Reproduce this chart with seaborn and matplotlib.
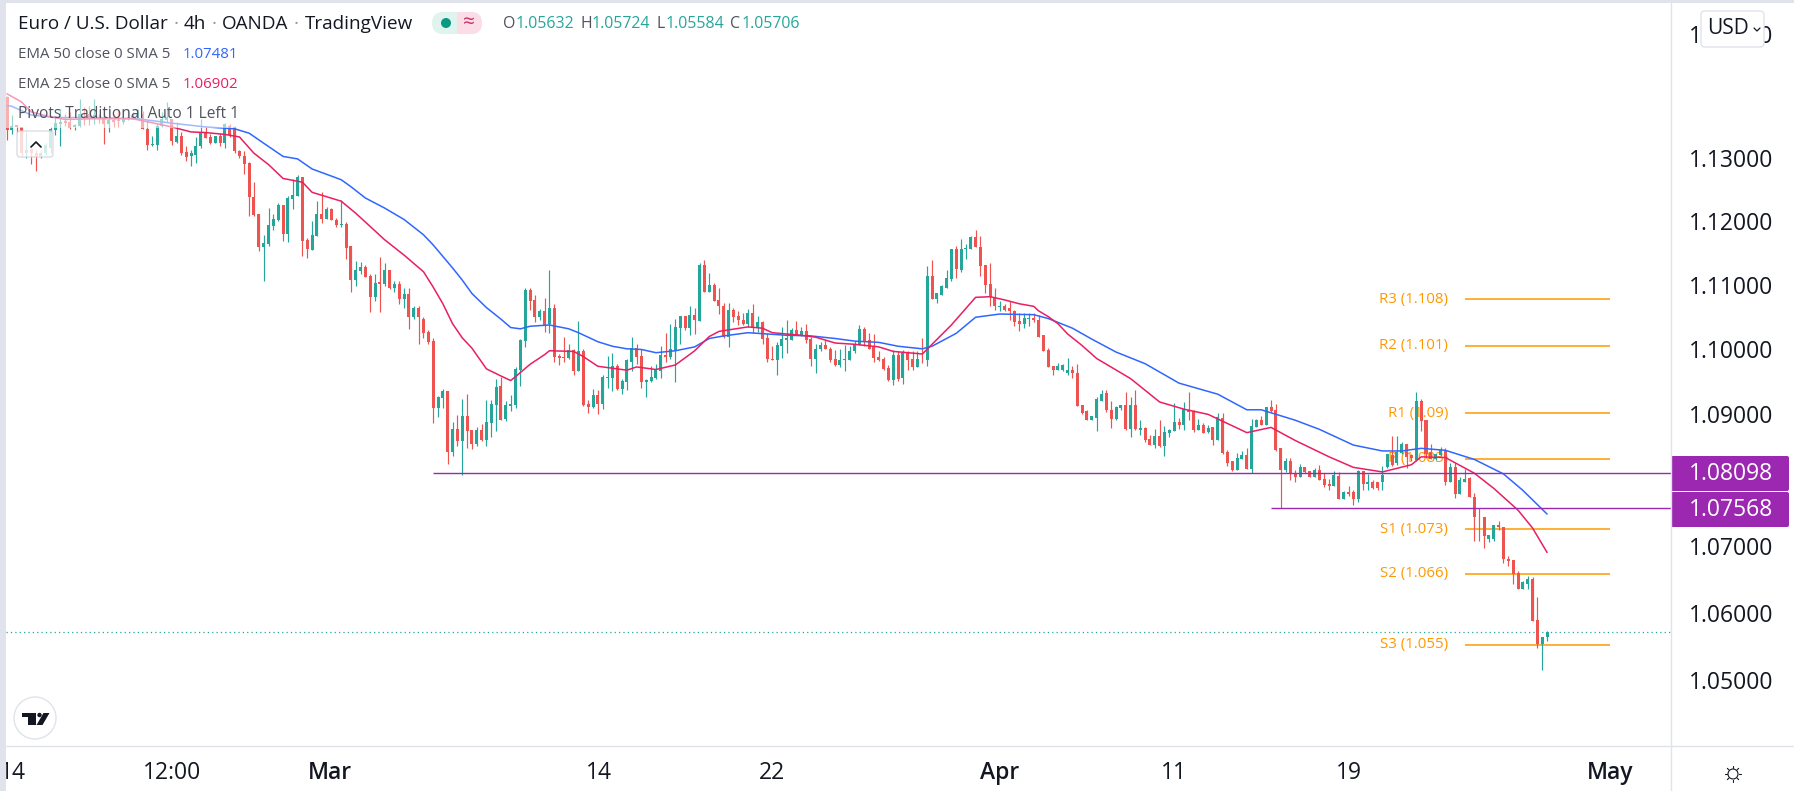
import numpy as np
import pandas as pd
import matplotlib
matplotlib.use('Agg')
import matplotlib.pyplot as plt
from matplotlib.patches import Rectangle, FancyBboxPatch, Circle, Polygon
from matplotlib.ticker import NullLocator
import seaborn as sns

# candle values (G = up bar, R = down bar)
directions = (
    "RGRRGRRGGG" "GGRRGGRRGR" "RGRRGGGGRR" "GGGGRGRRGG" "GRRGRGRRRR"
    "RRRGGGGRGG" "GRRGGRGRRG" "RRGGRRGRGR" "GRGRGRRRRG" "GRGRGRRGRG"
    "GGRGGGGGRR" "GRGRRRGRGR" "RGRGGGRGGG" "RRGGGGRGGG" "RGRGRGRRRG"
    "RRRGRGRRRG" "GGGRGRRGGR" "RRGGGGGRRR" "RRRGRGRRGR" "GRGGGGRGGG"
    "RRRRRG" "RRRRGGRR"
    "RRRGGGRRRR" "GGGRRGGRGR" "GRRGRGGGRG" "RRGRGRGRRR"
    "GGRGGRGRRR" "GRRGRRGRRR" "GRGRRGRGRR" "GGRGGRRGRR" "RGGRGRGGRR"
    "RRGGRRRRRG" "GRRGG"
)

highs = [
    1.1400, 1.1369, 1.1353, 1.1350, 1.1342, 1.1316, 1.1313, 1.1312, 1.1324, 1.1350,
    1.1366, 1.1379, 1.1370, 1.1374, 1.1355, 1.1394, 1.1382, 1.1384, 1.1395, 1.1371,
    1.1384, 1.1382, 1.1371, 1.1379, 1.1374, 1.1379, 1.1374, 1.1379, 1.1376, 1.1361,
    1.1336, 1.1355, 1.1374, 1.1390, 1.1363, 1.1358, 1.1342, 1.1320, 1.1313, 1.1334,
    1.1363, 1.1350, 1.1338, 1.1336, 1.1340, 1.1357, 1.1355, 1.1352, 1.1313, 1.1311,
    1.1294, 1.1262, 1.1211, 1.1179, 1.1221, 1.1212, 1.1229, 1.1226, 1.1240, 1.1267,
    1.1274, 1.1270, 1.1174, 1.1201, 1.1233, 1.1247, 1.1223, 1.1221, 1.1205, 1.1234,
    1.1199, 1.1162, 1.1138, 1.1136, 1.1132, 1.1117, 1.1118, 1.1144, 1.1134, 1.1124,
    1.1107, 1.1107, 1.1096, 1.1095, 1.1067, 1.1067, 1.1050, 1.1030, 1.1017, 1.0928,
    1.0939, 1.0936, 1.0888, 1.0899, 1.0924, 1.0932, 1.0876, 1.0880, 1.0885, 1.0922,
    1.0922, 1.0955,
    1.0958, 1.0920, 1.0930, 1.0973, 1.1016, 1.1096, 1.1096, 1.1085, 1.1063, 1.1080,
    1.1123, 1.1070, 1.0993, 1.1020, 1.1009, 1.1000, 1.1044, 1.1001, 1.0922, 1.0939,
    1.0937, 1.0961, 1.0990, 1.0994, 1.0978, 1.0955, 1.0985, 1.1019, 1.1008, 1.1000,
    1.0954, 1.0974, 1.0978, 1.1005, 1.1026, 1.1040, 1.1047, 1.1052, 1.1052, 1.1068,
    1.1064, 1.1135, 1.1139, 1.1119, 1.1103, 1.1095, 1.1072, 1.1072, 1.1064, 1.1059,
    1.1056, 1.1063, 1.1071, 1.1052, 1.1044, 1.1025, 1.1005, 1.1012, 1.1035, 1.1046,
    1.1034, 1.1044, 1.1035, 1.1040, 1.1020, 1.1008, 1.1012, 1.1014, 1.1004, 1.0999,
    1.1000, 1.1007, 1.1005, 1.1013, 1.1038, 1.1035, 1.1025, 1.1024, 1.0998, 1.0989,
    1.0976, 1.0999, 1.0998, 1.0999, 1.0998, 1.0997, 1.0997, 1.1018, 1.1130, 1.1139,
    1.1087, 1.1100, 1.1123, 1.1157, 1.1161, 1.1172, 1.1164, 1.1177, 1.1186, 1.1177,
    1.1132, 1.1134, 1.1095, 1.1076,
    1.1070, 1.1075, 1.1062, 1.1056, 1.1056, 1.1056, 1.1056, 1.1053,
    1.1022, 1.1003, 1.0975, 1.0979, 1.0977, 1.0987, 1.0975, 1.0977, 1.0914, 1.0907,
    1.0898, 1.0926, 1.0938, 1.0937, 1.0921, 1.0913, 1.0915, 1.0934, 1.0926, 1.0938,
    1.0892, 1.0881, 1.0869, 1.0878, 1.0891, 1.0882, 1.0878, 1.0918, 1.0895, 1.0919,
    1.0934, 1.0906, 1.0893, 1.0886, 1.0883, 1.0881, 1.0902, 1.0902, 1.0845, 1.0829,
    1.0841, 1.0844, 1.0848, 1.0893, 1.0893, 1.0898, 1.0912, 1.0922, 1.0916, 1.0849,
    1.0834, 1.0833, 1.0815, 1.0824, 1.0820, 1.0814, 1.0818, 1.0823, 1.0810, 1.0802,
    1.0814, 1.0812, 1.0783, 1.0790, 1.0785, 1.0815, 1.0813, 1.0809, 1.0800, 1.0797,
    1.0821, 1.0839, 1.0867, 1.0867, 1.0857, 1.0855, 1.0840, 1.0935, 1.0924, 1.0892,
    1.0855, 1.0840, 1.0850, 1.0849, 1.0826, 1.0825, 1.0804, 1.0816, 1.0805, 1.0780,
    1.0758, 1.0743, 1.0716, 1.0731, 1.0738, 1.0729, 1.0685, 1.0679, 1.0663, 1.0648,
    1.0655, 1.0654, 1.0624, 1.0563, 1.05724,
]

tops = [
    1.1398, 1.1352, 1.1353, 1.1350, 1.1313, 1.1315, 1.1309, 1.1309, 1.1321, 1.1347,
    1.1356, 1.1358, 1.1359, 1.1358, 1.1353, 1.1371, 1.1366, 1.1370, 1.1369, 1.1366,
    1.1363, 1.1361, 1.1361, 1.1361, 1.1363, 1.1366, 1.1368, 1.1371, 1.1371, 1.1347,
    1.1322, 1.1352, 1.1363, 1.1366, 1.1363, 1.1336, 1.1336, 1.1310, 1.1308, 1.1320,
    1.1342, 1.1341, 1.1334, 1.1335, 1.1336, 1.1354, 1.1352, 1.1350, 1.1312, 1.1304,
    1.1293, 1.1238, 1.1211, 1.1166, 1.1195, 1.1204, 1.1226, 1.1226, 1.1237, 1.1241,
    1.1270, 1.1270, 1.1171, 1.1178, 1.1212, 1.1212, 1.1220, 1.1220, 1.1203, 1.1196,
    1.1196, 1.1161, 1.1124, 1.1128, 1.1128, 1.1114, 1.1104, 1.1105, 1.1124, 1.1124,
    1.1102, 1.1102, 1.1086, 1.1086, 1.1065, 1.1065, 1.1048, 1.1027, 1.1013, 1.0927,
    1.0936, 1.0936, 1.0878, 1.0878, 1.0897, 1.0897, 1.0876, 1.0876, 1.0876, 1.0889,
    1.0916, 1.0942,
    1.0943, 1.0914, 1.0916, 1.0970, 1.1014, 1.1093, 1.1093, 1.1077, 1.1060, 1.1060,
    1.1064, 1.1064, 1.0990, 1.0988, 1.0999, 1.0999, 1.0998, 1.0998, 1.0916, 1.0930,
    1.0930, 1.0958, 1.0958, 1.0974, 1.0974, 1.0951, 1.0983, 1.1003, 1.1003, 1.0990,
    1.0953, 1.0957, 1.0970, 1.0991, 1.0991, 1.1000, 1.1035, 1.1052, 1.1052, 1.1054,
    1.1054, 1.1132, 1.1132, 1.1101, 1.1101, 1.1077, 1.1068, 1.1061, 1.1061, 1.1052,
    1.1046, 1.1056, 1.1056, 1.1042, 1.1043, 1.1018, 1.0986, 1.1007, 1.1016, 1.1018,
    1.1030, 1.1030, 1.1029, 1.1029, 1.1016, 1.1001, 1.1007, 1.1007, 1.1001, 1.0985,
    1.0984, 1.0985, 1.0998, 1.1008, 1.1032, 1.1032, 1.1015, 1.1004, 1.0988, 1.0985,
    1.0972, 1.0991, 1.0991, 1.0995, 1.0995, 1.0985, 1.0985, 1.0985, 1.1114, 1.1114,
    1.1087, 1.1098, 1.1111, 1.1157, 1.1157, 1.1157, 1.1158, 1.1175, 1.1175, 1.1160,
    1.1131, 1.1102, 1.1081, 1.1067,
    1.1067, 1.1064, 1.1060, 1.1044, 1.1049, 1.1049, 1.1049, 1.1046,
    1.1022, 1.0999, 1.0974, 1.0975, 1.0976, 1.0968, 1.0968, 1.0964, 1.0914, 1.0905,
    1.0897, 1.0923, 1.0932, 1.0933, 1.0907, 1.0911, 1.0914, 1.0914, 1.0914, 1.0914,
    1.0879, 1.0879, 1.0862, 1.0867, 1.0867, 1.0873, 1.0876, 1.0888, 1.0888, 1.0908,
    1.0907, 1.0905, 1.0883, 1.0883, 1.0879, 1.0880, 1.0896, 1.0895, 1.0843, 1.0828,
    1.0834, 1.0838, 1.0838, 1.0882, 1.0892, 1.0892, 1.0912, 1.0912, 1.0907, 1.0849,
    1.0829, 1.0829, 1.0810, 1.0819, 1.0819, 1.0814, 1.0815, 1.0815, 1.0801, 1.0794,
    1.0807, 1.0806, 1.0782, 1.0782, 1.0782, 1.0813, 1.0813, 1.0796, 1.0796, 1.0797,
    1.0807, 1.0839, 1.0838, 1.0842, 1.0854, 1.0854, 1.0838, 1.0921, 1.0921, 1.0891,
    1.0843, 1.0839, 1.0846, 1.0845, 1.0820, 1.0820, 1.0799, 1.0802, 1.0803, 1.0774,
    1.0744, 1.0743, 1.0716, 1.0731, 1.0731, 1.0729, 1.0681, 1.0679, 1.0659, 1.0646,
    1.0651, 1.0651, 1.0589, 1.0563, 1.05706,
]

bottoms = [
    1.1345, 1.1345, 1.1350, 1.1308, 1.1308, 1.1308, 1.1304, 1.1304, 1.1308, 1.1316,
    1.1345, 1.1354, 1.1357, 1.1349, 1.1350, 1.1352, 1.1362, 1.1363, 1.1363, 1.1363,
    1.1354, 1.1354, 1.1358, 1.1359, 1.1358, 1.1362, 1.1365, 1.1366, 1.1347, 1.1321,
    1.1321, 1.1321, 1.1352, 1.1361, 1.1327, 1.1326, 1.1308, 1.1302, 1.1303, 1.1305,
    1.1319, 1.1333, 1.1325, 1.1325, 1.1325, 1.1324, 1.1337, 1.1312, 1.1303, 1.1291,
    1.1238, 1.1210, 1.1160, 1.1160, 1.1165, 1.1193, 1.1203, 1.1181, 1.1181, 1.1236,
    1.1240, 1.1170, 1.1156, 1.1155, 1.1177, 1.1204, 1.1204, 1.1202, 1.1195, 1.1195,
    1.1159, 1.1108, 1.1108, 1.1122, 1.1113, 1.1081, 1.1081, 1.1102, 1.1102, 1.1096,
    1.1096, 1.1079, 1.1078, 1.1050, 1.1050, 1.1050, 1.1026, 1.1012, 1.0909, 1.0909,
    1.0925, 1.0843, 1.0843, 1.0859, 1.0859, 1.0875, 1.0854, 1.0855, 1.0860, 1.0860,
    1.0887, 1.0914,
    1.0892, 1.0893, 1.0913, 1.0914, 1.0968, 1.1013, 1.1076, 1.1051, 1.1051, 1.1038,
    1.1039, 1.0989, 1.0987, 1.0987, 1.0987, 1.0967, 1.0967, 1.0914, 1.0912, 1.0911,
    1.0916, 1.0916, 1.0956, 1.0956, 1.0939, 1.0939, 1.0950, 1.0981, 1.0989, 1.0950,
    1.0950, 1.0951, 1.0956, 1.0967, 1.0988, 1.0988, 1.0999, 1.1034, 1.1034, 1.1034,
    1.1045, 1.1044, 1.1090, 1.1090, 1.1076, 1.1067, 1.1019, 1.1020, 1.1051, 1.1045,
    1.1040, 1.1039, 1.1034, 1.1034, 1.1016, 1.0985, 1.0984, 1.0984, 1.1005, 1.1014,
    1.1015, 1.1022, 1.1022, 1.1014, 1.0985, 1.0985, 1.1000, 1.1000, 1.0984, 1.0976,
    1.0976, 1.0983, 1.0984, 1.0997, 1.1007, 1.1012, 1.1001, 1.0987, 1.0984, 1.0970,
    1.0953, 1.0953, 1.0954, 1.0956, 1.0984, 1.0973, 1.0973, 1.0985, 1.0984, 1.1079,
    1.1079, 1.1085, 1.1096, 1.1110, 1.1126, 1.1124, 1.1156, 1.1157, 1.1160, 1.1130,
    1.1101, 1.1081, 1.1067, 1.1066,
    1.1062, 1.1059, 1.1042, 1.1039, 1.1039, 1.1047, 1.1045, 1.1020,
    1.0998, 1.0973, 1.0969, 1.0969, 1.0969, 1.0963, 1.0963, 1.0913, 1.0902, 1.0892,
    1.0892, 1.0895, 1.0921, 1.0906, 1.0893, 1.0893, 1.0909, 1.0877, 1.0877, 1.0877,
    1.0876, 1.0860, 1.0853, 1.0853, 1.0852, 1.0851, 1.0872, 1.0874, 1.0883, 1.0883,
    1.0903, 1.0876, 1.0876, 1.0872, 1.0873, 1.0860, 1.0860, 1.0841, 1.0825, 1.0815,
    1.0815, 1.0832, 1.0816, 1.0816, 1.0881, 1.0883, 1.0883, 1.0905, 1.0846, 1.0815,
    1.0815, 1.0809, 1.0805, 1.0805, 1.0812, 1.0805, 1.0805, 1.0800, 1.0792, 1.0791,
    1.0791, 1.0771, 1.0771, 1.0779, 1.0771, 1.0771, 1.0794, 1.0794, 1.0788, 1.0788,
    1.0796, 1.0820, 1.0822, 1.0825, 1.0841, 1.0835, 1.0833, 1.0830, 1.0890, 1.0840,
    1.0832, 1.0831, 1.0838, 1.0797, 1.0797, 1.0779, 1.0779, 1.0797, 1.0774, 1.0744,
    1.0743, 1.0715, 1.0710, 1.0710, 1.0729, 1.0680, 1.0678, 1.0658, 1.0636, 1.0636,
    1.0643, 1.0588, 1.0554, 1.0554, 1.05632,
]

lows = [
    1.1329, 1.1339, 1.1340, 1.1303, 1.1301, 1.1291, 1.1280, 1.1301, 1.1305, 1.1308,
    1.1337, 1.1320, 1.1352, 1.1347, 1.1345, 1.1350, 1.1353, 1.1353, 1.1355, 1.1357,
    1.1323, 1.1342, 1.1350, 1.1350, 1.1355, 1.1361, 1.1362, 1.1363, 1.1346, 1.1313,
    1.1320, 1.1313, 1.1350, 1.1358, 1.1321, 1.1324, 1.1305, 1.1296, 1.1288, 1.1292,
    1.1317, 1.1332, 1.1322, 1.1325, 1.1320, 1.1317, 1.1334, 1.1308, 1.1301, 1.1275,
    1.1209, 1.1209, 1.1154, 1.1106, 1.1161, 1.1187, 1.1200, 1.1170, 1.1167, 1.1219,
    1.1240, 1.1146, 1.1143, 1.1155, 1.1177, 1.1197, 1.1204, 1.1202, 1.1191, 1.1191,
    1.1141, 1.1089, 1.1098, 1.1117, 1.1112, 1.1058, 1.1075, 1.1058, 1.1099, 1.1094,
    1.1089, 1.1071, 1.1064, 1.1032, 1.1047, 1.1009, 1.1018, 1.1008, 1.0886, 1.0896,
    1.0909, 1.0824, 1.0837, 1.0851, 1.0807, 1.0848, 1.0847, 1.0851, 1.0859, 1.0852,
    1.0866, 1.0874,
    1.0892, 1.0890, 1.0905, 1.0910, 1.0943, 1.1004, 1.1062, 1.1042, 1.1046, 1.1027,
    1.1025, 1.0981, 1.0976, 1.0980, 1.0986, 1.0961, 1.0967, 1.0913, 1.0902, 1.0909,
    1.0900, 1.0908, 1.0940, 1.0936, 1.0937, 1.0932, 1.0937, 1.0967, 1.0978, 1.0940,
    1.0927, 1.0949, 1.0955, 1.0956, 1.0981, 1.0986, 1.0950, 1.1008, 1.1030, 1.1022,
    1.1024, 1.1044, 1.1090, 1.1090, 1.1076, 1.1055, 1.1017, 1.1004, 1.1043, 1.1038,
    1.1038, 1.1035, 1.1026, 1.1027, 1.1009, 1.0981, 1.0984, 1.0961, 1.0987, 1.0994,
    1.1014, 1.1022, 1.1021, 1.1010, 1.0974, 1.0964, 1.0998, 1.1000, 1.0981, 1.0974,
    1.0973, 1.0967, 1.0983, 1.0995, 1.1007, 1.1005, 1.1000, 1.0981, 1.0982, 1.0968,
    1.0951, 1.0945, 1.0951, 1.0947, 1.0968, 1.0968, 1.0973, 1.0979, 1.0975, 1.1079,
    1.1072, 1.1084, 1.1096, 1.1107, 1.1111, 1.1121, 1.1141, 1.1157, 1.1160, 1.1114,
    1.1088, 1.1068, 1.1062, 1.1059,
    1.1060, 1.1045, 1.1037, 1.1029, 1.1034, 1.1037, 1.1042, 1.1019,
    1.0997, 1.0973, 1.0960, 1.0969, 1.0967, 1.0961, 1.0956, 1.0913, 1.0901, 1.0892,
    1.0892, 1.0875, 1.0920, 1.0903, 1.0879, 1.0892, 1.0906, 1.0876, 1.0866, 1.0876,
    1.0868, 1.0858, 1.0853, 1.0848, 1.0850, 1.0836, 1.0866, 1.0874, 1.0877, 1.0876,
    1.0892, 1.0873, 1.0876, 1.0871, 1.0872, 1.0853, 1.0860, 1.0839, 1.0821, 1.0813,
    1.0815, 1.0831, 1.0816, 1.0810, 1.0880, 1.0883, 1.0883, 1.0903, 1.0844, 1.0757,
    1.0812, 1.0799, 1.0797, 1.0804, 1.0810, 1.0805, 1.0804, 1.0800, 1.0789, 1.0784,
    1.0791, 1.0771, 1.0771, 1.0775, 1.0762, 1.0767, 1.0785, 1.0785, 1.0786, 1.0785,
    1.0785, 1.0818, 1.0821, 1.0823, 1.0840, 1.0818, 1.0828, 1.0830, 1.0875, 1.0833,
    1.0831, 1.0830, 1.0836, 1.0792, 1.0796, 1.0772, 1.0779, 1.0796, 1.0774, 1.0708,
    1.0708, 1.0697, 1.0706, 1.0708, 1.0724, 1.0674, 1.0670, 1.0643, 1.0636, 1.0636,
    1.0636, 1.0587, 1.0547, 1.0515, 1.05584,
]

# moving averages, read at these bars
ema50_bars = [0, 1, 5, 10, 19, 27, 34, 41, 47, 50, 53, 57, 60, 63, 69, 71, 74, 78, 82, 86, 88, 90, 92, 94, 96, 99,
              102, 104, 106, 108, 112, 116, 118, 122, 125, 128, 131, 134, 138, 142, 145, 148, 153, 157, 161, 166,
              171, 175, 180, 184, 189, 191, 196, 200, 205, 212, 215, 217, 220, 224, 229, 235, 242, 250, 256, 259,
              266, 271, 278, 284, 288, 292, 297, 303, 309, 313, 318]
ema50_vals = [1.1384, 1.1383, 1.1369, 1.1365, 1.1365, 1.1363, 1.1356, 1.1350, 1.1347, 1.1340, 1.1324,
              1.1303, 1.1299, 1.1283, 1.1266, 1.1255, 1.1237, 1.1221, 1.1203, 1.1179, 1.1163, 1.1145,
              1.1127, 1.1108, 1.1087, 1.1065, 1.1047,
              1.1034, 1.1032, 1.1036, 1.1038, 1.1032, 1.1026, 1.1012, 1.1005, 1.1001, 1.1000, 1.0995,
              1.0998, 1.1004, 1.1017, 1.1021, 1.1026, 1.1024, 1.1022, 1.1021, 1.1017, 1.1013, 1.1011,
              1.1005, 1.1001, 1.1005, 1.1025, 1.1050, 1.1055, 1.1054, 1.1048, 1.1042, 1.1033, 1.1016,
              1.0996, 1.0978, 1.0948, 1.0931,
              1.0907, 1.0907, 1.0891, 1.0877, 1.0853, 1.0844, 1.0844, 1.0848, 1.0845, 1.0831, 1.0809,
              1.0784, 1.07481]

ema25_bars = [0, 3, 5, 9, 12, 18, 26, 31, 34, 38, 41, 45, 48, 51, 54, 57, 61, 63, 69, 72, 75, 78, 82, 86, 88, 90,
              92, 94, 96, 99, 102, 104, 105, 108, 111, 112, 117, 119, 122, 125, 128, 130, 134, 138, 142, 145, 147,
              153, 156, 158, 164, 167, 171, 175, 180, 183, 189, 195, 200, 203, 206, 209, 212, 213, 215, 217, 219,
              222, 225, 232, 238, 243, 248, 256, 261, 266, 273, 278, 284, 290, 292, 297, 303, 307, 312, 315, 318]
ema25_vals = [1.1403, 1.1390, 1.1374, 1.1366, 1.1362, 1.1363, 1.1363, 1.1355, 1.1350, 1.1342, 1.1341,
              1.1338, 1.1334, 1.1308, 1.1290, 1.1268, 1.1262, 1.1246, 1.1232, 1.1213, 1.1192, 1.1171,
              1.1147, 1.1121, 1.1097, 1.1071, 1.1040, 1.1018,
              1.1002, 1.0970, 1.0959, 1.0952, 1.0958, 1.0977, 1.0992, 1.0998, 1.0997, 1.0989,
              1.0974, 1.0971, 1.0968, 1.0973, 1.0969, 1.0976, 1.0998, 1.1020, 1.1028, 1.1035, 1.1033,
              1.1026, 1.1022, 1.1019, 1.1010, 1.1008, 1.1004, 1.0997, 1.0993, 1.1038, 1.1081, 1.1082,
              1.1077, 1.1071, 1.1067, 1.1060, 1.1051, 1.1040, 1.1024, 1.1006, 1.0986, 1.0955, 1.0919,
              1.0908, 1.0900, 1.0872, 1.0880,
              1.0860, 1.0835, 1.0819, 1.0812, 1.0823, 1.0835, 1.0834, 1.0810, 1.0787, 1.0754, 1.0727,
              1.06902]

pivot_names = ['R3 (1.108)', 'R2 (1.101)', 'R1 (1.09)', 'P (1.083)', 'S1 (1.073)', 'S2 (1.066)', 'S3 (1.055)']
pivot_vals = [1.1078, 1.1006, 1.0902, 1.0832, 1.0725, 1.0658, 1.0552]

price_ticks = [1.05, 1.06, 1.07, 1.09, 1.10, 1.11, 1.12, 1.13, 1.15]
date_bars = [1.2, 34, 66.7, 122.2, 158, 205, 241, 277, 331]
date_labels = ['14', '12:00', 'Mar', '14', '22', 'Apr', '11', '19', 'May']
month_labels = ['Mar', 'Apr', 'May']

last_price = 1.05706
line_high = 1.08098
line_low = 1.07568

ohlc_letters = ['O', 'H', 'L', 'C']
ohlc_values = ['1.05632', '1.05724', '1.05584', '1.05706']

UP = '#26a69a'
DOWN = '#ef5350'
BLUE = '#2f66ff'
PINK = '#e91e63'
ORANGE = '#ff9800'
PURPLE = '#9c27b0'
BORDER = '#e0e3eb'
DARK = '#131722'
GREY = '#50535e'
W, H = 1794, 791

sns.set_theme(style='white')
plt.rcParams['font.family'] = ['Open Sans', 'DejaVu Sans']

fig = plt.figure(figsize=(W / 100, H / 100), dpi=100, facecolor='white')

# main pane, log price scale like the TradingView one
left, right, top, bottom = 6, 1671, 3, 746
ax = fig.add_axes([left / W, 1 - bottom / H, (right - left) / W, (bottom - top) / H])
ax.set_yscale('log')

df = pd.DataFrame({'dir': list(directions), 'high': highs, 'top': tops, 'bottom': bottoms, 'low': lows})
df['bar'] = df.index
df['color'] = df['dir'].map({'G': UP, 'R': DOWN})

ax.vlines(df['bar'], df['low'], df['high'], colors=df['color'], linewidth=0.85, zorder=3)
ax.bar(df['bar'], df['top'] - df['bottom'], bottom=df['bottom'], width=0.62, color=df['color'], linewidth=0, zorder=3)

ema = pd.concat([
    pd.DataFrame({'bar': ema50_bars, 'value': ema50_vals, 'line': 'EMA 50'}),
    pd.DataFrame({'bar': ema25_bars, 'value': ema25_vals, 'line': 'EMA 25'}),
])
sns.lineplot(data=ema, x='bar', y='value', hue='line', palette={'EMA 50': BLUE, 'EMA 25': PINK},
             estimator=None, legend=False, linewidth=1.1, zorder=4, ax=ax)

ax.hlines(pivot_vals, 301, 331, colors=ORANGE, linewidth=1.1, zorder=2)
for name, val in zip(pivot_names, pivot_vals):
    ax.text(297.6, val, name, color=ORANGE, fontsize=10.8, ha='right', va='center', zorder=1)

ax.hlines(line_high, 88, 344, colors=PURPLE, linewidth=1.0, zorder=5)
ax.hlines(line_low, 261, 344, colors=PURPLE, linewidth=1.0, zorder=5)
ax.axhline(last_price, color=UP, linewidth=0.9, dashes=(1, 2.5), zorder=2)

ax.set_xlim((left - 7) / 4.843, (right - 7) / 4.843)
ax.set_ylim(1.04029, 1.15497)
ax.yaxis.set_minor_locator(NullLocator())
ax.yaxis.tick_right()
ax.set_yticks(price_ticks, [f'{p:.5f}' for p in price_ticks])
ax.set_xticks(date_bars, date_labels)
ax.tick_params(axis='y', length=0, pad=13, labelsize=16.5, labelcolor=DARK)
ax.tick_params(axis='x', length=0, pad=11, labelsize=16.5, labelcolor=DARK)
for lab in ax.get_xticklabels():
    if lab.get_text() in month_labels:
        lab.set_fontweight('semibold')
ax.set_xlabel('')
ax.set_ylabel('')
sns.despine(ax=ax, left=True, right=True, top=True, bottom=True)

# page chrome and legend go on a pixel overlay
ui = fig.add_axes([0, 0, 1, 1], zorder=10)
ui.set_xlim(0, W)
ui.set_ylim(H, 0)
ui.axis('off')

ui.add_patch(Rectangle((0, 0), left, H, color=BORDER, lw=0))
ui.add_patch(Rectangle((0, 0), W, top, color=BORDER, lw=0))
ui.plot([left, W], [bottom, bottom], color=BORDER, lw=1)
ui.plot([right, right], [top, H], color=BORDER, lw=1)

# legend fades what is under it
ui.add_patch(Rectangle((left, 90), 239, 38, color='white', alpha=0.55, lw=0))
ui.add_patch(FancyBboxPatch((17, 131), 36, 26, boxstyle='round,pad=0,rounding_size=3',
                            facecolor='white', edgecolor='#d1d4dc', alpha=0.8, lw=1))
ui.plot([31, 36, 41], [147, 142, 147], color=DARK, lw=1.2)

renderer = fig.canvas.get_renderer()
x = 18
title_parts = ['Euro / U.S. Dollar', '4h', 'OANDA', 'TradingView']
for n, part in enumerate(title_parts):
    t = ui.text(x, 24, part, color=DARK, fontsize=13.6, va='center')
    x = t.get_window_extent(renderer).x1
    if n < len(title_parts) - 1:
        ui.text(x + 8, 24, '·', color='#9598a1', fontsize=13.6, va='center', ha='center')
        x += 16

ui.text(18, 54, 'EMA 50 close 0 SMA 5', color=GREY, fontsize=10.8, va='center')
ui.text(183, 54, '1.07481', color=BLUE, fontsize=10.8, va='center')
ui.text(18, 84, 'EMA 25 close 0 SMA 5', color=GREY, fontsize=10.8, va='center')
ui.text(183, 84, '1.06902', color=PINK, fontsize=10.8, va='center')
ui.text(18, 114, 'Pivots Traditional Auto 1 Left 1', color=GREY, fontsize=11.2, va='center')

# market status pill
pill_g = FancyBboxPatch((432, 12), 50, 22, boxstyle='round,pad=0,rounding_size=11', facecolor='#dff3ef', lw=0)
pill_r = FancyBboxPatch((432, 12), 50, 22, boxstyle='round,pad=0,rounding_size=11', facecolor='#fcdde7', lw=0)
ui.add_patch(pill_g)
ui.add_patch(pill_r)
pill_r.set_clip_path(Rectangle((457, 0), 40, 50, transform=ui.transData))
ui.add_patch(Circle((446, 23), 5, color='#089981', lw=0))
ui.text(469, 22, '≈', color='#cc2f62', fontsize=15, ha='center', va='center')

for letter, value, xl, xv in zip(ohlc_letters, ohlc_values, [503, 580, 657, 730], [516, 592, 666, 742]):
    ui.text(xl, 24, letter, color=GREY, fontsize=11.4, va='center')
    ui.text(xv, 24, value, color=UP, fontsize=11.4, va='center')

# purple price labels on the scale
for y0, label in [(456, '1.08098'), (492, '1.07568')]:
    ui.add_patch(FancyBboxPatch((right, y0), 118, 35, boxstyle='round,pad=0,rounding_size=2', facecolor=PURPLE, lw=0))
    ui.text(1689, y0 + 17.5, label, color='white', fontsize=16.5, va='center')

# USD button
ui.add_patch(FancyBboxPatch((1701, 11), 63, 36, boxstyle='round,pad=0,rounding_size=4',
                            facecolor='white', edgecolor=BORDER, lw=1))
ui.text(1707, 28, 'USD', color=DARK, fontsize=15, va='center')
ui.plot([1754, 1757, 1760], [28, 31, 28], color=DARK, lw=0.9)

# TV logo
ui.add_patch(Circle((35, 718), 21, facecolor='white', edgecolor=BORDER, lw=1))
ui.add_patch(Polygon([(22, 713), (36, 713), (36, 725), (28, 725), (28, 717), (22, 717)], color=DARK, lw=0))
ui.add_patch(Circle((39.5, 715), 2.2, color=DARK, lw=0))
ui.add_patch(Polygon([(43.5, 713), (49.5, 713), (42.5, 725), (36.5, 725)], color=DARK, lw=0))

# settings sun icon
ui.add_patch(Circle((1733, 774), 5, facecolor='none', edgecolor=DARK, lw=0.8))
for ang in np.arange(0, 360, 45):
    dx, dy = np.cos(np.radians(ang)), np.sin(np.radians(ang))
    ui.plot([1733 + 6 * dx, 1733 + 8 * dx], [774 + 6 * dy, 774 + 8 * dy], color=DARK, lw=0.8)

fig.savefig('out.png', dpi=100, facecolor='white')
